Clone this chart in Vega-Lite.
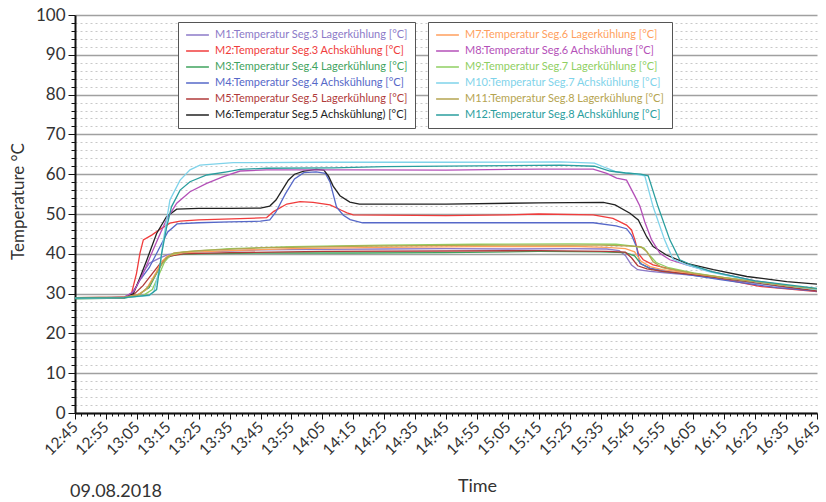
{
  "$schema": "https://vega.github.io/schema/vega-lite/v6.json",
  "width": 742,
  "height": 398,
  "autosize": {"type": "none"},
  "padding": {"left": 75, "top": 15, "right": 9, "bottom": 89},
  "config": {
    "view": {"stroke": null},
    "font": "Lato",
    "legend": {"orient": "none", "title": null, "symbolType": "stroke", "symbolSize": 520, "symbolStrokeWidth": 1.5, "labelFont": "Lato", "labelFontSize": 11, "labelLimit": 400, "rowPadding": 4, "padding": 7, "fillColor": "white", "strokeColor": "#555", "clipHeight": 12, "labelOffset": 5}
  },
  "title": {"text": "09.08.2018", "orient": "bottom", "anchor": "start", "frame": "group", "dx": -5, "fontSize": 18, "fontWeight": "normal", "color": "#333", "font": "Lato", "offset": -12},
  "encoding": {
    "x": {"field": "minutes", "type": "quantitative", "title": "Time",
      "scale": {"domain": [0, 240], "nice": false, "zero": false},
      "axis": {"values": [0,2,4,6,8,10,12,14,16,18,20,22,24,26,28,30,32,34,36,38,40,42,44,46,48,50,52,54,56,58,60,62,64,66,68,70,72,74,76,78,80,82,84,86,88,90,92,94,96,98,100,102,104,106,108,110,112,114,116,118,120,122,124,126,128,130,132,134,136,138,140,142,144,146,148,150,152,154,156,158,160,162,164,166,168,170,172,174,176,178,180,182,184,186,188,190,192,194,196,198,200,202,204,206,208,210,212,214,216,218,220,222,224,226,228,230,232,234,236,238,240],
        "labelExpr": "datum.value % 10 === 0 ? (floor((765 + datum.value) / 60) + ':' + ((765 + datum.value) % 60 < 10 ? '0' : '') + ((765 + datum.value) % 60)) : ''",
        "labelAngle": -45, "labelAlign": "right", "labelBaseline": "middle", "labelFontSize": 15.5, "labelColor": "#333", "labelFont": "Lato", "labelOverlap": false, "labelFlush": false, "labelBound": false, "labelPadding": 5,
        "grid": false, "domainColor": "#111", "domainWidth": 2, "tickColor": "#111", "tickWidth": 1,
        "tickSize": {"condition": {"test": "datum.value % 10 === 0", "value": 6}, "value": 3},
        "titleFontSize": 18, "titleFontWeight": "normal", "titleColor": "#333", "titleFont": "Lato", "titleX": 402, "titlePadding": 19}
    },
    "y": {"field": "temp", "type": "quantitative", "title": "Temperature °C",
      "scale": {"domain": [0, 100], "nice": false},
      "axis": {"values": [0,2,4,6,8,10,12,14,16,18,20,22,24,26,28,30,32,34,36,38,40,42,44,46,48,50,52,54,56,58,60,62,64,66,68,70,72,74,76,78,80,82,84,86,88,90,92,94,96,98,100],
        "labelExpr": "datum.value % 10 === 0 ? datum.label : ''",
        "labelFontSize": 17, "labelColor": "#333", "labelFont": "Lato", "labelPadding": 3, "labelOverlap": false, "labelBound": false, "labelFlush": false,
        "grid": true,
        "gridColor": {"condition": {"test": "datum.value % 10 === 0", "value": "#a0a0a0"}, "value": "#c8c8c8"},
        "gridWidth": {"condition": {"test": "datum.value % 10 === 0", "value": 1.5}, "value": 1},
        "gridDash": {"condition": {"test": "datum.value % 10 === 0", "value": []}, "value": [2, 3]},
        "domainColor": "#111", "domainWidth": 2, "tickColor": "#111", "tickWidth": 1,
        "tickSize": {"condition": {"test": "datum.value % 10 === 0", "value": 7}, "value": 4},
        "titleFontSize": 17, "titleFontWeight": "normal", "titleColor": "#333", "titleFont": "Lato", "titlePadding": 8, "titleY": 186}
    }
  },
  "layer": [
    {
      "data": {"values": [
        {"series":"M1:Temperatur Seg.3 Lagerkühlung [°C]","minutes":0,"temp":29.0},
        {"series":"M1:Temperatur Seg.3 Lagerkühlung [°C]","minutes":10,"temp":29.0},
        {"series":"M1:Temperatur Seg.3 Lagerkühlung [°C]","minutes":16,"temp":29.2},
        {"series":"M1:Temperatur Seg.3 Lagerkühlung [°C]","minutes":18,"temp":29.8},
        {"series":"M1:Temperatur Seg.3 Lagerkühlung [°C]","minutes":20,"temp":32.0},
        {"series":"M1:Temperatur Seg.3 Lagerkühlung [°C]","minutes":22,"temp":35.3},
        {"series":"M1:Temperatur Seg.3 Lagerkühlung [°C]","minutes":24,"temp":37.6},
        {"series":"M1:Temperatur Seg.3 Lagerkühlung [°C]","minutes":27,"temp":38.8},
        {"series":"M1:Temperatur Seg.3 Lagerkühlung [°C]","minutes":30,"temp":39.8},
        {"series":"M1:Temperatur Seg.3 Lagerkühlung [°C]","minutes":34,"temp":40.2},
        {"series":"M1:Temperatur Seg.3 Lagerkühlung [°C]","minutes":40,"temp":40.4},
        {"series":"M1:Temperatur Seg.3 Lagerkühlung [°C]","minutes":50,"temp":40.7},
        {"series":"M1:Temperatur Seg.3 Lagerkühlung [°C]","minutes":60,"temp":41.0},
        {"series":"M1:Temperatur Seg.3 Lagerkühlung [°C]","minutes":80,"temp":41.1},
        {"series":"M1:Temperatur Seg.3 Lagerkühlung [°C]","minutes":100,"temp":41.2},
        {"series":"M1:Temperatur Seg.3 Lagerkühlung [°C]","minutes":120,"temp":41.3},
        {"series":"M1:Temperatur Seg.3 Lagerkühlung [°C]","minutes":140,"temp":41.2},
        {"series":"M1:Temperatur Seg.3 Lagerkühlung [°C]","minutes":160,"temp":41.3},
        {"series":"M1:Temperatur Seg.3 Lagerkühlung [°C]","minutes":172,"temp":41.2},
        {"series":"M1:Temperatur Seg.3 Lagerkühlung [°C]","minutes":176,"temp":40.8},
        {"series":"M1:Temperatur Seg.3 Lagerkühlung [°C]","minutes":178,"temp":39.6},
        {"series":"M1:Temperatur Seg.3 Lagerkühlung [°C]","minutes":180,"temp":37.2},
        {"series":"M1:Temperatur Seg.3 Lagerkühlung [°C]","minutes":182,"temp":36.0},
        {"series":"M1:Temperatur Seg.3 Lagerkühlung [°C]","minutes":186,"temp":35.6},
        {"series":"M1:Temperatur Seg.3 Lagerkühlung [°C]","minutes":190,"temp":35.3},
        {"series":"M1:Temperatur Seg.3 Lagerkühlung [°C]","minutes":200,"temp":34.6},
        {"series":"M1:Temperatur Seg.3 Lagerkühlung [°C]","minutes":210,"temp":33.6},
        {"series":"M1:Temperatur Seg.3 Lagerkühlung [°C]","minutes":220,"temp":32.6},
        {"series":"M1:Temperatur Seg.3 Lagerkühlung [°C]","minutes":230,"temp":31.6},
        {"series":"M1:Temperatur Seg.3 Lagerkühlung [°C]","minutes":240,"temp":30.7},

        {"series":"M2:Temperatur Seg.3 Achskühlung [°C]","minutes":0,"temp":28.8},
        {"series":"M2:Temperatur Seg.3 Achskühlung [°C]","minutes":10,"temp":28.9},
        {"series":"M2:Temperatur Seg.3 Achskühlung [°C]","minutes":17,"temp":29.2},
        {"series":"M2:Temperatur Seg.3 Achskühlung [°C]","minutes":18.3,"temp":30.1},
        {"series":"M2:Temperatur Seg.3 Achskühlung [°C]","minutes":19.9,"temp":35.1},
        {"series":"M2:Temperatur Seg.3 Achskühlung [°C]","minutes":21,"temp":40.1},
        {"series":"M2:Temperatur Seg.3 Achskühlung [°C]","minutes":22.1,"temp":43.5},
        {"series":"M2:Temperatur Seg.3 Achskühlung [°C]","minutes":24.8,"temp":44.7},
        {"series":"M2:Temperatur Seg.3 Achskühlung [°C]","minutes":28,"temp":46.4},
        {"series":"M2:Temperatur Seg.3 Achskühlung [°C]","minutes":30.7,"temp":47.7},
        {"series":"M2:Temperatur Seg.3 Achskühlung [°C]","minutes":34,"temp":48.2},
        {"series":"M2:Temperatur Seg.3 Achskühlung [°C]","minutes":40,"temp":48.5},
        {"series":"M2:Temperatur Seg.3 Achskühlung [°C]","minutes":56,"temp":48.9},
        {"series":"M2:Temperatur Seg.3 Achskühlung [°C]","minutes":62,"temp":49.1},
        {"series":"M2:Temperatur Seg.3 Achskühlung [°C]","minutes":64.2,"temp":50.6},
        {"series":"M2:Temperatur Seg.3 Achskühlung [°C]","minutes":68.5,"temp":52.5},
        {"series":"M2:Temperatur Seg.3 Achskühlung [°C]","minutes":72.8,"temp":53.1},
        {"series":"M2:Temperatur Seg.3 Achskühlung [°C]","minutes":77,"temp":52.9},
        {"series":"M2:Temperatur Seg.3 Achskühlung [°C]","minutes":82.5,"temp":52.3},
        {"series":"M2:Temperatur Seg.3 Achskühlung [°C]","minutes":86,"temp":51.0},
        {"series":"M2:Temperatur Seg.3 Achskühlung [°C]","minutes":88,"temp":50.3},
        {"series":"M2:Temperatur Seg.3 Achskühlung [°C]","minutes":90,"temp":49.8},
        {"series":"M2:Temperatur Seg.3 Achskühlung [°C]","minutes":120,"temp":49.6},
        {"series":"M2:Temperatur Seg.3 Achskühlung [°C]","minutes":140,"temp":49.8},
        {"series":"M2:Temperatur Seg.3 Achskühlung [°C]","minutes":150,"temp":50.0},
        {"series":"M2:Temperatur Seg.3 Achskühlung [°C]","minutes":167.6,"temp":49.8},
        {"series":"M2:Temperatur Seg.3 Achskühlung [°C]","minutes":174,"temp":48.9},
        {"series":"M2:Temperatur Seg.3 Achskühlung [°C]","minutes":178.4,"temp":47.2},
        {"series":"M2:Temperatur Seg.3 Achskühlung [°C]","minutes":180,"temp":46.0},
        {"series":"M2:Temperatur Seg.3 Achskühlung [°C]","minutes":181.1,"temp":43.5},
        {"series":"M2:Temperatur Seg.3 Achskühlung [°C]","minutes":182.2,"temp":40.1},
        {"series":"M2:Temperatur Seg.3 Achskühlung [°C]","minutes":183.8,"temp":38.5},
        {"series":"M2:Temperatur Seg.3 Achskühlung [°C]","minutes":187,"temp":37.2},
        {"series":"M2:Temperatur Seg.3 Achskühlung [°C]","minutes":193.5,"temp":36.0},
        {"series":"M2:Temperatur Seg.3 Achskühlung [°C]","minutes":205.4,"temp":34.3},
        {"series":"M2:Temperatur Seg.3 Achskühlung [°C]","minutes":221.5,"temp":31.8},
        {"series":"M2:Temperatur Seg.3 Achskühlung [°C]","minutes":240,"temp":30.5},

        {"series":"M3:Temperatur Seg.4 Lagerkühlung [°C]","minutes":0,"temp":28.7},
        {"series":"M3:Temperatur Seg.4 Lagerkühlung [°C]","minutes":16,"temp":28.9},
        {"series":"M3:Temperatur Seg.4 Lagerkühlung [°C]","minutes":20,"temp":29.5},
        {"series":"M3:Temperatur Seg.4 Lagerkühlung [°C]","minutes":24,"temp":31.5},
        {"series":"M3:Temperatur Seg.4 Lagerkühlung [°C]","minutes":26,"temp":34.5},
        {"series":"M3:Temperatur Seg.4 Lagerkühlung [°C]","minutes":28,"temp":37.5},
        {"series":"M3:Temperatur Seg.4 Lagerkühlung [°C]","minutes":30,"temp":39.2},
        {"series":"M3:Temperatur Seg.4 Lagerkühlung [°C]","minutes":33,"temp":39.8},
        {"series":"M3:Temperatur Seg.4 Lagerkühlung [°C]","minutes":40,"temp":40.0},
        {"series":"M3:Temperatur Seg.4 Lagerkühlung [°C]","minutes":60,"temp":40.2},
        {"series":"M3:Temperatur Seg.4 Lagerkühlung [°C]","minutes":90,"temp":40.2},
        {"series":"M3:Temperatur Seg.4 Lagerkühlung [°C]","minutes":120,"temp":40.3},
        {"series":"M3:Temperatur Seg.4 Lagerkühlung [°C]","minutes":150,"temp":40.6},
        {"series":"M3:Temperatur Seg.4 Lagerkühlung [°C]","minutes":170,"temp":40.5},
        {"series":"M3:Temperatur Seg.4 Lagerkühlung [°C]","minutes":178,"temp":40.3},
        {"series":"M3:Temperatur Seg.4 Lagerkühlung [°C]","minutes":181,"temp":39.5},
        {"series":"M3:Temperatur Seg.4 Lagerkühlung [°C]","minutes":183,"temp":37.5},
        {"series":"M3:Temperatur Seg.4 Lagerkühlung [°C]","minutes":186,"temp":36.3},
        {"series":"M3:Temperatur Seg.4 Lagerkühlung [°C]","minutes":190,"temp":35.6},
        {"series":"M3:Temperatur Seg.4 Lagerkühlung [°C]","minutes":200,"temp":34.8},
        {"series":"M3:Temperatur Seg.4 Lagerkühlung [°C]","minutes":210,"temp":33.8},
        {"series":"M3:Temperatur Seg.4 Lagerkühlung [°C]","minutes":220,"temp":32.8},
        {"series":"M3:Temperatur Seg.4 Lagerkühlung [°C]","minutes":230,"temp":31.8},
        {"series":"M3:Temperatur Seg.4 Lagerkühlung [°C]","minutes":240,"temp":30.8},

        {"series":"M4:Temperatur Seg.4 Achskühlung [°C]","minutes":0,"temp":28.8},
        {"series":"M4:Temperatur Seg.4 Achskühlung [°C]","minutes":16,"temp":29.0},
        {"series":"M4:Temperatur Seg.4 Achskühlung [°C]","minutes":19,"temp":30.5},
        {"series":"M4:Temperatur Seg.4 Achskühlung [°C]","minutes":21,"temp":33.4},
        {"series":"M4:Temperatur Seg.4 Achskühlung [°C]","minutes":24,"temp":36.5},
        {"series":"M4:Temperatur Seg.4 Achskühlung [°C]","minutes":27,"temp":41.0},
        {"series":"M4:Temperatur Seg.4 Achskühlung [°C]","minutes":30,"temp":45.5},
        {"series":"M4:Temperatur Seg.4 Achskühlung [°C]","minutes":33,"temp":47.5},
        {"series":"M4:Temperatur Seg.4 Achskühlung [°C]","minutes":40,"temp":47.8},
        {"series":"M4:Temperatur Seg.4 Achskühlung [°C]","minutes":50,"temp":48.0},
        {"series":"M4:Temperatur Seg.4 Achskühlung [°C]","minutes":60,"temp":48.2},
        {"series":"M4:Temperatur Seg.4 Achskühlung [°C]","minutes":63,"temp":48.5},
        {"series":"M4:Temperatur Seg.4 Achskühlung [°C]","minutes":65,"temp":50.5},
        {"series":"M4:Temperatur Seg.4 Achskühlung [°C]","minutes":68,"temp":55.0},
        {"series":"M4:Temperatur Seg.4 Achskühlung [°C]","minutes":71,"temp":58.8},
        {"series":"M4:Temperatur Seg.4 Achskühlung [°C]","minutes":74,"temp":60.4},
        {"series":"M4:Temperatur Seg.4 Achskühlung [°C]","minutes":78,"temp":60.6},
        {"series":"M4:Temperatur Seg.4 Achskühlung [°C]","minutes":81,"temp":60.2},
        {"series":"M4:Temperatur Seg.4 Achskühlung [°C]","minutes":82.5,"temp":58.0},
        {"series":"M4:Temperatur Seg.4 Achskühlung [°C]","minutes":84.6,"temp":51.7},
        {"series":"M4:Temperatur Seg.4 Achskühlung [°C]","minutes":86.8,"temp":49.7},
        {"series":"M4:Temperatur Seg.4 Achskühlung [°C]","minutes":89,"temp":48.6},
        {"series":"M4:Temperatur Seg.4 Achskühlung [°C]","minutes":93,"temp":47.8},
        {"series":"M4:Temperatur Seg.4 Achskühlung [°C]","minutes":120,"temp":47.8},
        {"series":"M4:Temperatur Seg.4 Achskühlung [°C]","minutes":150,"temp":47.8},
        {"series":"M4:Temperatur Seg.4 Achskühlung [°C]","minutes":167.6,"temp":47.8},
        {"series":"M4:Temperatur Seg.4 Achskühlung [°C]","minutes":175,"temp":47.0},
        {"series":"M4:Temperatur Seg.4 Achskühlung [°C]","minutes":178.4,"temp":46.3},
        {"series":"M4:Temperatur Seg.4 Achskühlung [°C]","minutes":180,"temp":44.7},
        {"series":"M4:Temperatur Seg.4 Achskühlung [°C]","minutes":181.6,"temp":41.8},
        {"series":"M4:Temperatur Seg.4 Achskühlung [°C]","minutes":182.7,"temp":37.6},
        {"series":"M4:Temperatur Seg.4 Achskühlung [°C]","minutes":186,"temp":36.4},
        {"series":"M4:Temperatur Seg.4 Achskühlung [°C]","minutes":194.6,"temp":35.2},
        {"series":"M4:Temperatur Seg.4 Achskühlung [°C]","minutes":208.7,"temp":33.5},
        {"series":"M4:Temperatur Seg.4 Achskühlung [°C]","minutes":227,"temp":31.5},
        {"series":"M4:Temperatur Seg.4 Achskühlung [°C]","minutes":240,"temp":30.6},

        {"series":"M5:Temperatur Seg.5 Lagerkühlung [°C]","minutes":0,"temp":28.9},
        {"series":"M5:Temperatur Seg.5 Lagerkühlung [°C]","minutes":16,"temp":29.0},
        {"series":"M5:Temperatur Seg.5 Lagerkühlung [°C]","minutes":19,"temp":29.8},
        {"series":"M5:Temperatur Seg.5 Lagerkühlung [°C]","minutes":22,"temp":32.0},
        {"series":"M5:Temperatur Seg.5 Lagerkühlung [°C]","minutes":25,"temp":35.0},
        {"series":"M5:Temperatur Seg.5 Lagerkühlung [°C]","minutes":28,"temp":38.0},
        {"series":"M5:Temperatur Seg.5 Lagerkühlung [°C]","minutes":31,"temp":39.5},
        {"series":"M5:Temperatur Seg.5 Lagerkühlung [°C]","minutes":35,"temp":40.0},
        {"series":"M5:Temperatur Seg.5 Lagerkühlung [°C]","minutes":50,"temp":40.3},
        {"series":"M5:Temperatur Seg.5 Lagerkühlung [°C]","minutes":80,"temp":40.6},
        {"series":"M5:Temperatur Seg.5 Lagerkühlung [°C]","minutes":120,"temp":40.7},
        {"series":"M5:Temperatur Seg.5 Lagerkühlung [°C]","minutes":150,"temp":40.8},
        {"series":"M5:Temperatur Seg.5 Lagerkühlung [°C]","minutes":172,"temp":40.6},
        {"series":"M5:Temperatur Seg.5 Lagerkühlung [°C]","minutes":178,"temp":40.4},
        {"series":"M5:Temperatur Seg.5 Lagerkühlung [°C]","minutes":180,"temp":39.0},
        {"series":"M5:Temperatur Seg.5 Lagerkühlung [°C]","minutes":182,"temp":37.0},
        {"series":"M5:Temperatur Seg.5 Lagerkühlung [°C]","minutes":185,"temp":36.2},
        {"series":"M5:Temperatur Seg.5 Lagerkühlung [°C]","minutes":190,"temp":35.6},
        {"series":"M5:Temperatur Seg.5 Lagerkühlung [°C]","minutes":200,"temp":34.8},
        {"series":"M5:Temperatur Seg.5 Lagerkühlung [°C]","minutes":210,"temp":33.8},
        {"series":"M5:Temperatur Seg.5 Lagerkühlung [°C]","minutes":220,"temp":32.8},
        {"series":"M5:Temperatur Seg.5 Lagerkühlung [°C]","minutes":230,"temp":31.7},
        {"series":"M5:Temperatur Seg.5 Lagerkühlung [°C]","minutes":240,"temp":30.7},

        {"series":"M6:Temperatur Seg.5 Achskühlung) [°C]","minutes":0,"temp":28.9},
        {"series":"M6:Temperatur Seg.5 Achskühlung) [°C]","minutes":16,"temp":29.0},
        {"series":"M6:Temperatur Seg.5 Achskühlung) [°C]","minutes":18.9,"temp":30.0},
        {"series":"M6:Temperatur Seg.5 Achskühlung) [°C]","minutes":21,"temp":34.0},
        {"series":"M6:Temperatur Seg.5 Achskühlung) [°C]","minutes":23.2,"temp":38.4},
        {"series":"M6:Temperatur Seg.5 Achskühlung) [°C]","minutes":26.4,"temp":45.1},
        {"series":"M6:Temperatur Seg.5 Achskühlung) [°C]","minutes":29.6,"temp":49.3},
        {"series":"M6:Temperatur Seg.5 Achskühlung) [°C]","minutes":32.9,"temp":51.2},
        {"series":"M6:Temperatur Seg.5 Achskühlung) [°C]","minutes":40,"temp":51.4},
        {"series":"M6:Temperatur Seg.5 Achskühlung) [°C]","minutes":50,"temp":51.4},
        {"series":"M6:Temperatur Seg.5 Achskühlung) [°C]","minutes":60,"temp":51.5},
        {"series":"M6:Temperatur Seg.5 Achskühlung) [°C]","minutes":63,"temp":52.0},
        {"series":"M6:Temperatur Seg.5 Achskühlung) [°C]","minutes":65,"temp":53.5},
        {"series":"M6:Temperatur Seg.5 Achskühlung) [°C]","minutes":67,"temp":56.0},
        {"series":"M6:Temperatur Seg.5 Achskühlung) [°C]","minutes":69,"temp":58.5},
        {"series":"M6:Temperatur Seg.5 Achskühlung) [°C]","minutes":71,"temp":60.0},
        {"series":"M6:Temperatur Seg.5 Achskühlung) [°C]","minutes":74,"temp":60.8},
        {"series":"M6:Temperatur Seg.5 Achskühlung) [°C]","minutes":78,"temp":61.2},
        {"series":"M6:Temperatur Seg.5 Achskühlung) [°C]","minutes":80.5,"temp":61.0},
        {"series":"M6:Temperatur Seg.5 Achskühlung) [°C]","minutes":82,"temp":59.5},
        {"series":"M6:Temperatur Seg.5 Achskühlung) [°C]","minutes":83.5,"temp":57.0},
        {"series":"M6:Temperatur Seg.5 Achskühlung) [°C]","minutes":85.7,"temp":54.6},
        {"series":"M6:Temperatur Seg.5 Achskühlung) [°C]","minutes":88.9,"temp":53.0},
        {"series":"M6:Temperatur Seg.5 Achskühlung) [°C]","minutes":92,"temp":52.5},
        {"series":"M6:Temperatur Seg.5 Achskühlung) [°C]","minutes":120,"temp":52.5},
        {"series":"M6:Temperatur Seg.5 Achskühlung) [°C]","minutes":150,"temp":52.8},
        {"series":"M6:Temperatur Seg.5 Achskühlung) [°C]","minutes":170.9,"temp":52.9},
        {"series":"M6:Temperatur Seg.5 Achskühlung) [°C]","minutes":174.7,"temp":52.3},
        {"series":"M6:Temperatur Seg.5 Achskühlung) [°C]","minutes":179.5,"temp":50.2},
        {"series":"M6:Temperatur Seg.5 Achskühlung) [°C]","minutes":182.2,"temp":48.5},
        {"series":"M6:Temperatur Seg.5 Achskühlung) [°C]","minutes":184.9,"temp":44.3},
        {"series":"M6:Temperatur Seg.5 Achskühlung) [°C]","minutes":187,"temp":41.8},
        {"series":"M6:Temperatur Seg.5 Achskühlung) [°C]","minutes":191.3,"temp":39.7},
        {"series":"M6:Temperatur Seg.5 Achskühlung) [°C]","minutes":197.8,"temp":37.6},
        {"series":"M6:Temperatur Seg.5 Achskühlung) [°C]","minutes":206.5,"temp":36.0},
        {"series":"M6:Temperatur Seg.5 Achskühlung) [°C]","minutes":217.3,"temp":34.3},
        {"series":"M6:Temperatur Seg.5 Achskühlung) [°C]","minutes":230.2,"temp":33.0},
        {"series":"M6:Temperatur Seg.5 Achskühlung) [°C]","minutes":240,"temp":32.4}
      ]},
      "mark": {"type": "line", "strokeWidth": 1.3},
      "encoding": {
        "color": {"field": "series", "type": "nominal",
          "scale": {"domain": ["M1:Temperatur Seg.3 Lagerkühlung [°C]", "M2:Temperatur Seg.3 Achskühlung [°C]", "M3:Temperatur Seg.4 Lagerkühlung [°C]", "M4:Temperatur Seg.4 Achskühlung [°C]", "M5:Temperatur Seg.5 Lagerkühlung [°C]", "M6:Temperatur Seg.5 Achskühlung) [°C]"],
            "range": ["#8c7ac8", "#f03c3c", "#3fa35e", "#5668c8", "#b03a3a", "#222222"]},
          "legend": {"legendX": 103, "legendY": 7,
            "encode": {"labels": {"update": {"fill": {"scale": "color", "field": "value"}}}}}
        }
      }
    },
    {
      "data": {"values": [
        {"series":"M7:Temperatur Seg.6 Lagerkühlung [°C]","minutes":0,"temp":29.0},
        {"series":"M7:Temperatur Seg.6 Lagerkühlung [°C]","minutes":16,"temp":29.1},
        {"series":"M7:Temperatur Seg.6 Lagerkühlung [°C]","minutes":20,"temp":29.6},
        {"series":"M7:Temperatur Seg.6 Lagerkühlung [°C]","minutes":23,"temp":31.0},
        {"series":"M7:Temperatur Seg.6 Lagerkühlung [°C]","minutes":26,"temp":35.0},
        {"series":"M7:Temperatur Seg.6 Lagerkühlung [°C]","minutes":28,"temp":38.0},
        {"series":"M7:Temperatur Seg.6 Lagerkühlung [°C]","minutes":30,"temp":39.5},
        {"series":"M7:Temperatur Seg.6 Lagerkühlung [°C]","minutes":35,"temp":40.3},
        {"series":"M7:Temperatur Seg.6 Lagerkühlung [°C]","minutes":50,"temp":40.8},
        {"series":"M7:Temperatur Seg.6 Lagerkühlung [°C]","minutes":70,"temp":41.3},
        {"series":"M7:Temperatur Seg.6 Lagerkühlung [°C]","minutes":100,"temp":41.6},
        {"series":"M7:Temperatur Seg.6 Lagerkühlung [°C]","minutes":130,"temp":41.8},
        {"series":"M7:Temperatur Seg.6 Lagerkühlung [°C]","minutes":160,"temp":41.9},
        {"series":"M7:Temperatur Seg.6 Lagerkühlung [°C]","minutes":172,"temp":41.6},
        {"series":"M7:Temperatur Seg.6 Lagerkühlung [°C]","minutes":178,"temp":41.3},
        {"series":"M7:Temperatur Seg.6 Lagerkühlung [°C]","minutes":181,"temp":40.5},
        {"series":"M7:Temperatur Seg.6 Lagerkühlung [°C]","minutes":183,"temp":38.2},
        {"series":"M7:Temperatur Seg.6 Lagerkühlung [°C]","minutes":186,"temp":36.8},
        {"series":"M7:Temperatur Seg.6 Lagerkühlung [°C]","minutes":190,"temp":36.0},
        {"series":"M7:Temperatur Seg.6 Lagerkühlung [°C]","minutes":200,"temp":35.0},
        {"series":"M7:Temperatur Seg.6 Lagerkühlung [°C]","minutes":210,"temp":34.0},
        {"series":"M7:Temperatur Seg.6 Lagerkühlung [°C]","minutes":220,"temp":33.0},
        {"series":"M7:Temperatur Seg.6 Lagerkühlung [°C]","minutes":230,"temp":32.0},
        {"series":"M7:Temperatur Seg.6 Lagerkühlung [°C]","minutes":240,"temp":31.1},

        {"series":"M8:Temperatur Seg.6 Achskühlung [°C]","minutes":0,"temp":29.0},
        {"series":"M8:Temperatur Seg.6 Achskühlung [°C]","minutes":16,"temp":29.1},
        {"series":"M8:Temperatur Seg.6 Achskühlung [°C]","minutes":19,"temp":30.5},
        {"series":"M8:Temperatur Seg.6 Achskühlung [°C]","minutes":22,"temp":35.0},
        {"series":"M8:Temperatur Seg.6 Achskühlung [°C]","minutes":25,"temp":40.5},
        {"series":"M8:Temperatur Seg.6 Achskühlung [°C]","minutes":27.5,"temp":45.0},
        {"series":"M8:Temperatur Seg.6 Achskühlung [°C]","minutes":29.6,"temp":48.6},
        {"series":"M8:Temperatur Seg.6 Achskühlung [°C]","minutes":32.9,"temp":52.7},
        {"series":"M8:Temperatur Seg.6 Achskühlung [°C]","minutes":37.2,"temp":55.6},
        {"series":"M8:Temperatur Seg.6 Achskühlung [°C]","minutes":42.6,"temp":57.7},
        {"series":"M8:Temperatur Seg.6 Achskühlung [°C]","minutes":48,"temp":59.4},
        {"series":"M8:Temperatur Seg.6 Achskühlung [°C]","minutes":53.4,"temp":60.8},
        {"series":"M8:Temperatur Seg.6 Achskühlung [°C]","minutes":62,"temp":61.1},
        {"series":"M8:Temperatur Seg.6 Achskühlung [°C]","minutes":90,"temp":61.1},
        {"series":"M8:Temperatur Seg.6 Achskühlung [°C]","minutes":120,"temp":61.0},
        {"series":"M8:Temperatur Seg.6 Achskühlung [°C]","minutes":150,"temp":61.3},
        {"series":"M8:Temperatur Seg.6 Achskühlung [°C]","minutes":167.6,"temp":61.3},
        {"series":"M8:Temperatur Seg.6 Achskühlung [°C]","minutes":172,"temp":60.2},
        {"series":"M8:Temperatur Seg.6 Achskühlung [°C]","minutes":175.2,"temp":59.0},
        {"series":"M8:Temperatur Seg.6 Achskühlung [°C]","minutes":178.4,"temp":58.5},
        {"series":"M8:Temperatur Seg.6 Achskühlung [°C]","minutes":181.1,"temp":54.5},
        {"series":"M8:Temperatur Seg.6 Achskühlung [°C]","minutes":182.7,"temp":52.0},
        {"series":"M8:Temperatur Seg.6 Achskühlung [°C]","minutes":184.3,"temp":48.0},
        {"series":"M8:Temperatur Seg.6 Achskühlung [°C]","minutes":186.5,"temp":43.5},
        {"series":"M8:Temperatur Seg.6 Achskühlung [°C]","minutes":189.2,"temp":40.1},
        {"series":"M8:Temperatur Seg.6 Achskühlung [°C]","minutes":192.4,"temp":38.5},
        {"series":"M8:Temperatur Seg.6 Achskühlung [°C]","minutes":197.8,"temp":37.2},
        {"series":"M8:Temperatur Seg.6 Achskühlung [°C]","minutes":205.4,"temp":35.6},
        {"series":"M8:Temperatur Seg.6 Achskühlung [°C]","minutes":220,"temp":33.2},
        {"series":"M8:Temperatur Seg.6 Achskühlung [°C]","minutes":240,"temp":31.0},

        {"series":"M9:Temperatur Seg.7 Lagerkühlung [°C]","minutes":0,"temp":28.8},
        {"series":"M9:Temperatur Seg.7 Lagerkühlung [°C]","minutes":16,"temp":29.0},
        {"series":"M9:Temperatur Seg.7 Lagerkühlung [°C]","minutes":22,"temp":29.5},
        {"series":"M9:Temperatur Seg.7 Lagerkühlung [°C]","minutes":25,"temp":31.0},
        {"series":"M9:Temperatur Seg.7 Lagerkühlung [°C]","minutes":27,"temp":34.5},
        {"series":"M9:Temperatur Seg.7 Lagerkühlung [°C]","minutes":29,"temp":38.0},
        {"series":"M9:Temperatur Seg.7 Lagerkühlung [°C]","minutes":31,"temp":39.8},
        {"series":"M9:Temperatur Seg.7 Lagerkühlung [°C]","minutes":35,"temp":40.5},
        {"series":"M9:Temperatur Seg.7 Lagerkühlung [°C]","minutes":50,"temp":41.3},
        {"series":"M9:Temperatur Seg.7 Lagerkühlung [°C]","minutes":70,"temp":41.8},
        {"series":"M9:Temperatur Seg.7 Lagerkühlung [°C]","minutes":100,"temp":42.2},
        {"series":"M9:Temperatur Seg.7 Lagerkühlung [°C]","minutes":130,"temp":42.4},
        {"series":"M9:Temperatur Seg.7 Lagerkühlung [°C]","minutes":160,"temp":42.5},
        {"series":"M9:Temperatur Seg.7 Lagerkühlung [°C]","minutes":175,"temp":42.4},
        {"series":"M9:Temperatur Seg.7 Lagerkühlung [°C]","minutes":180,"temp":42.0},
        {"series":"M9:Temperatur Seg.7 Lagerkühlung [°C]","minutes":184,"temp":41.5},
        {"series":"M9:Temperatur Seg.7 Lagerkühlung [°C]","minutes":186,"temp":39.5},
        {"series":"M9:Temperatur Seg.7 Lagerkühlung [°C]","minutes":188,"temp":37.8},
        {"series":"M9:Temperatur Seg.7 Lagerkühlung [°C]","minutes":192,"temp":36.5},
        {"series":"M9:Temperatur Seg.7 Lagerkühlung [°C]","minutes":200,"temp":35.2},
        {"series":"M9:Temperatur Seg.7 Lagerkühlung [°C]","minutes":210,"temp":34.0},
        {"series":"M9:Temperatur Seg.7 Lagerkühlung [°C]","minutes":220,"temp":33.0},
        {"series":"M9:Temperatur Seg.7 Lagerkühlung [°C]","minutes":230,"temp":32.0},
        {"series":"M9:Temperatur Seg.7 Lagerkühlung [°C]","minutes":240,"temp":31.0},

        {"series":"M10:Temperatur Seg.7 Achskühlung [°C]","minutes":0,"temp":28.8},
        {"series":"M10:Temperatur Seg.7 Achskühlung [°C]","minutes":16,"temp":29.0},
        {"series":"M10:Temperatur Seg.7 Achskühlung [°C]","minutes":24,"temp":29.5},
        {"series":"M10:Temperatur Seg.7 Achskühlung [°C]","minutes":25.5,"temp":30.5},
        {"series":"M10:Temperatur Seg.7 Achskühlung [°C]","minutes":27.5,"temp":36.8},
        {"series":"M10:Temperatur Seg.7 Achskühlung [°C]","minutes":28.6,"temp":43.5},
        {"series":"M10:Temperatur Seg.7 Achskühlung [°C]","minutes":30.7,"temp":53.5},
        {"series":"M10:Temperatur Seg.7 Achskühlung [°C]","minutes":34,"temp":58.5},
        {"series":"M10:Temperatur Seg.7 Achskühlung [°C]","minutes":37.2,"temp":61.1},
        {"series":"M10:Temperatur Seg.7 Achskühlung [°C]","minutes":40.4,"temp":62.3},
        {"series":"M10:Temperatur Seg.7 Achskühlung [°C]","minutes":51.2,"temp":62.9},
        {"series":"M10:Temperatur Seg.7 Achskühlung [°C]","minutes":80,"temp":63.0},
        {"series":"M10:Temperatur Seg.7 Achskühlung [°C]","minutes":120,"temp":63.0},
        {"series":"M10:Temperatur Seg.7 Achskühlung [°C]","minutes":157,"temp":63.1},
        {"series":"M10:Temperatur Seg.7 Achskühlung [°C]","minutes":168,"temp":62.8},
        {"series":"M10:Temperatur Seg.7 Achskühlung [°C]","minutes":172,"temp":61.5},
        {"series":"M10:Temperatur Seg.7 Achskühlung [°C]","minutes":175,"temp":60.6},
        {"series":"M10:Temperatur Seg.7 Achskühlung [°C]","minutes":180,"temp":60.2},
        {"series":"M10:Temperatur Seg.7 Achskühlung [°C]","minutes":184.3,"temp":59.6},
        {"series":"M10:Temperatur Seg.7 Achskühlung [°C]","minutes":187,"temp":51.8},
        {"series":"M10:Temperatur Seg.7 Achskühlung [°C]","minutes":190.7,"temp":43.5},
        {"series":"M10:Temperatur Seg.7 Achskühlung [°C]","minutes":193.4,"temp":38.7},
        {"series":"M10:Temperatur Seg.7 Achskühlung [°C]","minutes":197.8,"temp":37.2},
        {"series":"M10:Temperatur Seg.7 Achskühlung [°C]","minutes":205,"temp":35.5},
        {"series":"M10:Temperatur Seg.7 Achskühlung [°C]","minutes":220,"temp":33.0},
        {"series":"M10:Temperatur Seg.7 Achskühlung [°C]","minutes":230,"temp":32.0},
        {"series":"M10:Temperatur Seg.7 Achskühlung [°C]","minutes":240,"temp":31.0},

        {"series":"M11:Temperatur Seg.8 Lagerkühlung [°C]","minutes":0,"temp":29.0},
        {"series":"M11:Temperatur Seg.8 Lagerkühlung [°C]","minutes":16,"temp":29.1},
        {"series":"M11:Temperatur Seg.8 Lagerkühlung [°C]","minutes":21,"temp":29.8},
        {"series":"M11:Temperatur Seg.8 Lagerkühlung [°C]","minutes":24,"temp":32.0},
        {"series":"M11:Temperatur Seg.8 Lagerkühlung [°C]","minutes":27,"temp":36.0},
        {"series":"M11:Temperatur Seg.8 Lagerkühlung [°C]","minutes":29.5,"temp":39.0},
        {"series":"M11:Temperatur Seg.8 Lagerkühlung [°C]","minutes":32,"temp":40.2},
        {"series":"M11:Temperatur Seg.8 Lagerkühlung [°C]","minutes":40,"temp":40.8},
        {"series":"M11:Temperatur Seg.8 Lagerkühlung [°C]","minutes":60,"temp":41.5},
        {"series":"M11:Temperatur Seg.8 Lagerkühlung [°C]","minutes":90,"temp":41.9},
        {"series":"M11:Temperatur Seg.8 Lagerkühlung [°C]","minutes":120,"temp":42.1},
        {"series":"M11:Temperatur Seg.8 Lagerkühlung [°C]","minutes":150,"temp":42.2},
        {"series":"M11:Temperatur Seg.8 Lagerkühlung [°C]","minutes":170,"temp":42.2},
        {"series":"M11:Temperatur Seg.8 Lagerkühlung [°C]","minutes":178,"temp":42.0},
        {"series":"M11:Temperatur Seg.8 Lagerkühlung [°C]","minutes":183,"temp":41.8},
        {"series":"M11:Temperatur Seg.8 Lagerkühlung [°C]","minutes":185,"temp":40.5},
        {"series":"M11:Temperatur Seg.8 Lagerkühlung [°C]","minutes":187,"temp":38.0},
        {"series":"M11:Temperatur Seg.8 Lagerkühlung [°C]","minutes":190,"temp":36.5},
        {"series":"M11:Temperatur Seg.8 Lagerkühlung [°C]","minutes":200,"temp":35.1},
        {"series":"M11:Temperatur Seg.8 Lagerkühlung [°C]","minutes":210,"temp":34.0},
        {"series":"M11:Temperatur Seg.8 Lagerkühlung [°C]","minutes":220,"temp":33.0},
        {"series":"M11:Temperatur Seg.8 Lagerkühlung [°C]","minutes":230,"temp":32.0},
        {"series":"M11:Temperatur Seg.8 Lagerkühlung [°C]","minutes":240,"temp":31.2},

        {"series":"M12:Temperatur Seg.8 Achskühlung [°C]","minutes":0,"temp":28.9},
        {"series":"M12:Temperatur Seg.8 Achskühlung [°C]","minutes":16,"temp":29.0},
        {"series":"M12:Temperatur Seg.8 Achskühlung [°C]","minutes":24,"temp":29.6},
        {"series":"M12:Temperatur Seg.8 Achskühlung [°C]","minutes":26.4,"temp":31.0},
        {"series":"M12:Temperatur Seg.8 Achskühlung [°C]","minutes":28,"temp":40.0},
        {"series":"M12:Temperatur Seg.8 Achskühlung [°C]","minutes":29.6,"temp":46.5},
        {"series":"M12:Temperatur Seg.8 Achskühlung [°C]","minutes":31.2,"temp":51.8},
        {"series":"M12:Temperatur Seg.8 Achskühlung [°C]","minutes":34,"temp":56.0},
        {"series":"M12:Temperatur Seg.8 Achskühlung [°C]","minutes":37.2,"temp":58.1},
        {"series":"M12:Temperatur Seg.8 Achskühlung [°C]","minutes":42.6,"temp":59.8},
        {"series":"M12:Temperatur Seg.8 Achskühlung [°C]","minutes":49.1,"temp":60.6},
        {"series":"M12:Temperatur Seg.8 Achskühlung [°C]","minutes":53.4,"temp":61.2},
        {"series":"M12:Temperatur Seg.8 Achskühlung [°C]","minutes":62,"temp":61.5},
        {"series":"M12:Temperatur Seg.8 Achskühlung [°C]","minutes":83.6,"temp":61.6},
        {"series":"M12:Temperatur Seg.8 Achskühlung [°C]","minutes":100,"temp":61.9},
        {"series":"M12:Temperatur Seg.8 Achskühlung [°C]","minutes":130,"temp":62.1},
        {"series":"M12:Temperatur Seg.8 Achskühlung [°C]","minutes":157,"temp":62.3},
        {"series":"M12:Temperatur Seg.8 Achskühlung [°C]","minutes":168,"temp":62.0},
        {"series":"M12:Temperatur Seg.8 Achskühlung [°C]","minutes":173,"temp":60.8},
        {"series":"M12:Temperatur Seg.8 Achskühlung [°C]","minutes":178,"temp":60.3},
        {"series":"M12:Temperatur Seg.8 Achskühlung [°C]","minutes":183,"temp":60.0},
        {"series":"M12:Temperatur Seg.8 Achskühlung [°C]","minutes":185.4,"temp":59.6},
        {"series":"M12:Temperatur Seg.8 Achskühlung [°C]","minutes":188.6,"temp":51.8},
        {"series":"M12:Temperatur Seg.8 Achskühlung [°C]","minutes":192.4,"temp":43.5},
        {"series":"M12:Temperatur Seg.8 Achskühlung [°C]","minutes":195.6,"temp":38.5},
        {"series":"M12:Temperatur Seg.8 Achskühlung [°C]","minutes":200,"temp":37.0},
        {"series":"M12:Temperatur Seg.8 Achskühlung [°C]","minutes":206,"temp":35.5},
        {"series":"M12:Temperatur Seg.8 Achskühlung [°C]","minutes":220,"temp":33.2},
        {"series":"M12:Temperatur Seg.8 Achskühlung [°C]","minutes":240,"temp":31.3}
      ]},
      "mark": {"type": "line", "strokeWidth": 1.3},
      "encoding": {
        "stroke": {"field": "series", "type": "nominal",
          "scale": {"domain": ["M7:Temperatur Seg.6 Lagerkühlung [°C]", "M8:Temperatur Seg.6 Achskühlung [°C]", "M9:Temperatur Seg.7 Lagerkühlung [°C]", "M10:Temperatur Seg.7 Achskühlung [°C]", "M11:Temperatur Seg.8 Lagerkühlung [°C]", "M12:Temperatur Seg.8 Achskühlung [°C]"],
            "range": ["#ff9f5e", "#b450b8", "#8fcf62", "#7fd3ea", "#b5a450", "#2a9e9e"]},
          "legend": {"legendX": 353, "legendY": 7,
            "encode": {"labels": {"update": {"fill": {"scale": "stroke", "field": "value"}}}}}
        }
      }
    }
  ]
}
